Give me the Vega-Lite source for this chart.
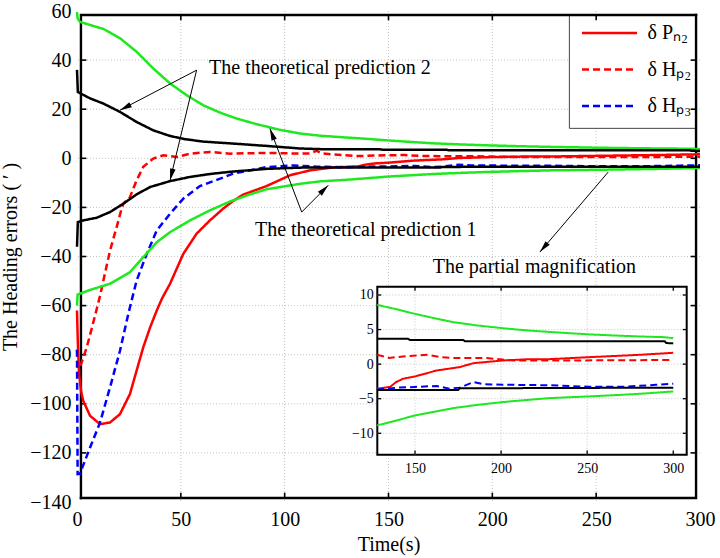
{
 "$schema": "https://vega.github.io/schema/vega-lite/v6.json",
 "width": 623, "height": 491,
 "autosize": "none",
 "padding": {"left": 77, "top": 11, "right": 20, "bottom": 56},
 "background": "white",
 "config": {
  "font": "Liberation Serif",
  "view": {"stroke": null},
  "axis": {"labelFontSize": 20, "labelColor": "black", "titleFontSize": 20, "titleFontWeight": "normal", "titleColor": "black", "labelFont": "Liberation Serif", "titleFont": "Liberation Serif", "domain": false, "ticks": false, "grid": false},
  "legend": {"labelFont": "Liberation Serif"},
  "text": {"font": "Liberation Serif"}
 },
 "data": {"values": [{}]},
 "datasets": {
  "frame": [
   {"k":"a","t":1.9,"v":-138.4},{"k":"a","t":1.9,"v":58.4},{"k":"a","t":298.1,"v":58.4},
   {"k":"b","t":1.9,"v":-138.4},{"k":"b","t":298.1,"v":-138.4},{"k":"b","t":298.1,"v":58.4}
  ],
  "curves": [
   {"s":"Pn2","t":0,"v":-62},{"s":"Pn2","t":0.4,"v":-75},{"s":"Pn2","t":1,"v":-88},{"s":"Pn2","t":2,"v":-95},{"s":"Pn2","t":3,"v":-98.8},{"s":"Pn2","t":6.3,"v":-104.9},{"s":"Pn2","t":11.1,"v":-108.3},{"s":"Pn2","t":15.9,"v":-107.6},{"s":"Pn2","t":20.7,"v":-104.2},{"s":"Pn2","t":25.5,"v":-96},{"s":"Pn2","t":28.7,"v":-86.5},{"s":"Pn2","t":31.9,"v":-77},{"s":"Pn2","t":35.2,"v":-68.9},{"s":"Pn2","t":38.4,"v":-62},{"s":"Pn2","t":41,"v":-57},{"s":"Pn2","t":44.8,"v":-51.1},{"s":"Pn2","t":51.2,"v":-38.9},{"s":"Pn2","t":57.6,"v":-30.7},{"s":"Pn2","t":64,"v":-25.3},{"s":"Pn2","t":70.4,"v":-20.5},{"s":"Pn2","t":75.3,"v":-17.3},{"s":"Pn2","t":80,"v":-14.8},{"s":"Pn2","t":91.3,"v":-11.3},{"s":"Pn2","t":102.6,"v":-6.9},{"s":"Pn2","t":112.2,"v":-4.9},{"s":"Pn2","t":123.4,"v":-3.7},{"s":"Pn2","t":128,"v":-3.55},{"s":"Pn2","t":135.5,"v":-3.3},{"s":"Pn2","t":139,"v":-2.6},{"s":"Pn2","t":143.2,"v":-2.1},{"s":"Pn2","t":150,"v":-1.78},{"s":"Pn2","t":162.6,"v":-0.92},{"s":"Pn2","t":176,"v":-0.43},{"s":"Pn2","t":183.9,"v":0.14},{"s":"Pn2","t":201,"v":0.53},{"s":"Pn2","t":214.9,"v":0.7},{"s":"Pn2","t":228,"v":0.72},{"s":"Pn2","t":251.2,"v":1.01},{"s":"Pn2","t":280.7,"v":1.35},{"s":"Pn2","t":300,"v":1.64},
   {"s":"Hp2","t":0,"v":-78},{"s":"Hp2","t":0.8,"v":-88},{"s":"Hp2","t":1.4,"v":-85.2},{"s":"Hp2","t":4.7,"v":-77},{"s":"Hp2","t":7.8,"v":-67},{"s":"Hp2","t":9.5,"v":-61.4},{"s":"Hp2","t":11.1,"v":-56},{"s":"Hp2","t":12.7,"v":-49.8},{"s":"Hp2","t":15.9,"v":-37.6},{"s":"Hp2","t":19.1,"v":-28},{"s":"Hp2","t":21,"v":-22},{"s":"Hp2","t":22.3,"v":-18.5},{"s":"Hp2","t":25.5,"v":-15.8},{"s":"Hp2","t":28.7,"v":-9},{"s":"Hp2","t":31.9,"v":-3.5},{"s":"Hp2","t":36.7,"v":-0.1},{"s":"Hp2","t":41.6,"v":1.2},{"s":"Hp2","t":48,"v":0.5},{"s":"Hp2","t":54.4,"v":1.9},{"s":"Hp2","t":64,"v":2.6},{"s":"Hp2","t":73.7,"v":1.9},{"s":"Hp2","t":91.3,"v":2.2},{"s":"Hp2","t":107.4,"v":1.9},{"s":"Hp2","t":112,"v":2.0},{"s":"Hp2","t":115.4,"v":3.0},{"s":"Hp2","t":118,"v":2.0},{"s":"Hp2","t":123.4,"v":1.6},{"s":"Hp2","t":128,"v":1.35},{"s":"Hp2","t":135,"v":0.9},{"s":"Hp2","t":143,"v":1.1},{"s":"Hp2","t":157.7,"v":1.35},{"s":"Hp2","t":165,"v":1.0},{"s":"Hp2","t":174,"v":0.87},{"s":"Hp2","t":191.6,"v":0.87},{"s":"Hp2","t":207,"v":0.53},{"s":"Hp2","t":228,"v":0.53},{"s":"Hp2","t":260,"v":0.55},{"s":"Hp2","t":300,"v":0.6},
   {"s":"Hp3","t":0,"v":-78},{"s":"Hp3","t":0.3,"v":-128.6},{"s":"Hp3","t":1.4,"v":-128.5},{"s":"Hp3","t":6.3,"v":-117.8},{"s":"Hp3","t":11.1,"v":-107.6},{"s":"Hp3","t":15.9,"v":-93.3},{"s":"Hp3","t":20.7,"v":-78.4},{"s":"Hp3","t":24.7,"v":-63.4},{"s":"Hp3","t":28.7,"v":-49.8},{"s":"Hp3","t":33.6,"v":-38.9},{"s":"Hp3","t":38.4,"v":-29.4},{"s":"Hp3","t":44.8,"v":-22.6},{"s":"Hp3","t":51.2,"v":-16.4},{"s":"Hp3","t":59.2,"v":-11.3},{"s":"Hp3","t":67.3,"v":-8.8},{"s":"Hp3","t":75.3,"v":-6.2},{"s":"Hp3","t":91.3,"v":-3.6},{"s":"Hp3","t":104.2,"v":-2.9},{"s":"Hp3","t":115.4,"v":-3.4},{"s":"Hp3","t":128,"v":-3.66},{"s":"Hp3","t":140,"v":-3.4},{"s":"Hp3","t":150,"v":-3.3},{"s":"Hp3","t":162.6,"v":-3.15},{"s":"Hp3","t":170,"v":-3.57},{"s":"Hp3","t":176,"v":-3.4},{"s":"Hp3","t":183.9,"v":-2.6},{"s":"Hp3","t":190,"v":-2.9},{"s":"Hp3","t":201,"v":-2.98},{"s":"Hp3","t":228,"v":-3.05},{"s":"Hp3","t":251,"v":-3.27},{"s":"Hp3","t":271,"v":-3.27},{"s":"Hp3","t":290,"v":-3.0},{"s":"Hp3","t":300,"v":-2.84},
   {"s":"U1","t":0,"v":59.5},{"s":"U1","t":0.3,"v":57},{"s":"U1","t":1.4,"v":55.6},{"s":"U1","t":6.3,"v":54.3},{"s":"U1","t":12.7,"v":52.7},{"s":"U1","t":20.7,"v":48.9},{"s":"U1","t":28.7,"v":43.4},{"s":"U1","t":36.7,"v":36.6},{"s":"U1","t":44.8,"v":30.5},{"s":"U1","t":52.8,"v":25.7},{"s":"U1","t":60.8,"v":21.6},{"s":"U1","t":68.9,"v":18.6},{"s":"U1","t":76.9,"v":16.2},{"s":"U1","t":86.5,"v":13.9},{"s":"U1","t":97.7,"v":11.6},{"s":"U1","t":107.4,"v":10.1},{"s":"U1","t":117,"v":9.2},{"s":"U1","t":128,"v":8.57},{"s":"U1","t":140,"v":7.9},{"s":"U1","t":150,"v":7.27},{"s":"U1","t":162,"v":6.6},{"s":"U1","t":172.3,"v":6.07},{"s":"U1","t":186,"v":5.6},{"s":"U1","t":200.9,"v":5.2},{"s":"U1","t":214,"v":4.9},{"s":"U1","t":228.4,"v":4.65},{"s":"U1","t":251.2,"v":4.3},{"s":"U1","t":265,"v":4.15},{"s":"U1","t":280.7,"v":4.0},{"s":"U1","t":295,"v":3.9},{"s":"U1","t":300,"v":3.75},
   {"s":"L1","t":0,"v":-60},{"s":"L1","t":0.3,"v":-55.5},{"s":"L1","t":6.3,"v":-53.6},{"s":"L1","t":15.9,"v":-51.1},{"s":"L1","t":25.5,"v":-46.4},{"s":"L1","t":31.9,"v":-40.3},{"s":"L1","t":38.4,"v":-34.2},{"s":"L1","t":44.8,"v":-30.1},{"s":"L1","t":54.4,"v":-25.3},{"s":"L1","t":64,"v":-21.2},{"s":"L1","t":73.7,"v":-17.6},{"s":"L1","t":83,"v":-14.8},{"s":"L1","t":91.3,"v":-12.6},{"s":"L1","t":107.4,"v":-10.4},{"s":"L1","t":117,"v":-9.4},{"s":"L1","t":128,"v":-8.86},{"s":"L1","t":140,"v":-8.1},{"s":"L1","t":150,"v":-7.42},{"s":"L1","t":162,"v":-6.85},{"s":"L1","t":172.3,"v":-6.36},{"s":"L1","t":186,"v":-5.9},{"s":"L1","t":200.9,"v":-5.49},{"s":"L1","t":214,"v":-5.2},{"s":"L1","t":228.4,"v":-4.91},{"s":"L1","t":251,"v":-4.67},{"s":"L1","t":265,"v":-4.5},{"s":"L1","t":280.7,"v":-4.29},{"s":"L1","t":300,"v":-3.95},
   {"s":"U2","t":0,"v":36},{"s":"U2","t":0.4,"v":27},{"s":"U2","t":6.3,"v":24.4},{"s":"U2","t":12.7,"v":22.3},{"s":"U2","t":20.7,"v":18.9},{"s":"U2","t":28.7,"v":14.8},{"s":"U2","t":36.7,"v":11.4},{"s":"U2","t":44.8,"v":9.1},{"s":"U2","t":52,"v":7.8},{"s":"U2","t":60.8,"v":6.8},{"s":"U2","t":76.9,"v":5.9},{"s":"U2","t":92,"v":5.0},{"s":"U2","t":107.4,"v":4.0},{"s":"U2","t":118.6,"v":3.7},{"s":"U2","t":128,"v":3.66},{"s":"U2","t":146,"v":3.66},{"s":"U2","t":147,"v":3.5},{"s":"U2","t":178,"v":3.5},{"s":"U2","t":179,"v":3.3},{"s":"U2","t":295,"v":3.3},{"s":"U2","t":296,"v":3.05},{"s":"U2","t":300,"v":3.0},
   {"s":"L2","t":0,"v":-36},{"s":"L2","t":0.4,"v":-26},{"s":"L2","t":3,"v":-25.3},{"s":"L2","t":9.5,"v":-24.2},{"s":"L2","t":15.9,"v":-21.9},{"s":"L2","t":22.3,"v":-18.5},{"s":"L2","t":28.7,"v":-14.7},{"s":"L2","t":35.2,"v":-11.7},{"s":"L2","t":44.8,"v":-9.3},{"s":"L2","t":54.4,"v":-7.6},{"s":"L2","t":64,"v":-6.4},{"s":"L2","t":73.7,"v":-5.5},{"s":"L2","t":91.3,"v":-4.3},{"s":"L2","t":107.4,"v":-3.8},{"s":"L2","t":128,"v":-3.75},{"s":"L2","t":175,"v":-3.75},{"s":"L2","t":176,"v":-3.5},{"s":"L2","t":300,"v":-3.4}
  ]
 },
 "layer": [
  {
   "layer": [
    {
     "data": {"values": [{"g": 50}, {"g": 100}, {"g": 150}, {"g": 200}, {"g": 250}]},
     "mark": {"type": "rule", "color": "#c4c4c4", "strokeDash": [1, 2], "strokeWidth": 1},
     "encoding": {"x": {"field": "g", "type": "quantitative"}}
    },
    {
     "data": {"values": [{"h": -120}, {"h": -100}, {"h": -80}, {"h": -60}, {"h": -40}, {"h": -20}, {"h": 0}, {"h": 20}, {"h": 40}]},
     "mark": {"type": "rule", "color": "#c4c4c4", "strokeDash": [1, 2], "strokeWidth": 1},
     "encoding": {"y": {"field": "h", "type": "quantitative"}}
    },
    {"mark": {"type": "rect", "fill": "white", "stroke": "#444444", "strokeWidth": 1},
     "encoding": {"x": {"datum": 237.1, "type": "quantitative"}, "x2": {"datum": 298.1}, "y": {"datum": 58.4, "type": "quantitative"}, "y2": {"datum": 12.2}}},
    {
     "data": {"name": "frame"},
     "mark": {"type": "line", "color": "black", "strokeWidth": 2.4, "strokeCap": "square"},
     "encoding": {"x": {"field": "t", "type": "quantitative"}, "y": {"field": "v", "type": "quantitative"}, "detail": {"field": "k", "type": "nominal"}}
    },
    {
     "data": {"values": [{"g": 50}, {"g": 100}, {"g": 150}, {"g": 200}, {"g": 250}]},
     "mark": {"type": "rule", "color": "black", "strokeWidth": 1.6},
     "encoding": {"x": {"field": "g", "type": "quantitative"}, "y": {"datum": -138.4, "type": "quantitative"}, "y2": {"datum": -136.2}}
    },
    {
     "data": {"values": [{"g": 50}, {"g": 100}, {"g": 150}, {"g": 200}, {"g": 250}]},
     "mark": {"type": "rule", "color": "black", "strokeWidth": 1.6},
     "encoding": {"x": {"field": "g", "type": "quantitative"}, "y": {"datum": 58.4, "type": "quantitative"}, "y2": {"datum": 56.2}}
    },
    {
     "data": {"values": [{"h": -120}, {"h": -100}, {"h": -80}, {"h": -60}, {"h": -40}, {"h": -20}, {"h": 0}, {"h": 20}, {"h": 40}]},
     "mark": {"type": "rule", "color": "black", "strokeWidth": 1.6},
     "encoding": {"y": {"field": "h", "type": "quantitative"}, "x": {"datum": 1.9, "type": "quantitative"}, "x2": {"datum": 4.5}}
    },
    {
     "data": {"values": [{"h": -120}, {"h": -100}, {"h": -80}, {"h": -60}, {"h": -40}, {"h": -20}, {"h": 0}, {"h": 20}, {"h": 40}]},
     "mark": {"type": "rule", "color": "black", "strokeWidth": 1.6},
     "encoding": {"y": {"field": "h", "type": "quantitative"}, "x": {"datum": 298.1, "type": "quantitative"}, "x2": {"datum": 295.5}}
    },
    {
     "data": {"name": "curves"},
     "mark": {"type": "line", "strokeWidth": 2.5},
     "encoding": {
      "x": {"field": "t", "type": "quantitative", "scale": {"domain": [0, 300], "nice": false, "zero": false},
            "axis": {"orient": "bottom", "values": [0, 50, 100, 150, 200, 250, 300], "title": "Time(s)", "labelPadding": 7, "titlePadding": 5, "labelFlush": false, "labelOverlap": false}},
      "y": {"field": "v", "type": "quantitative", "scale": {"domain": [-140, 60], "nice": false, "zero": false},
            "axis": {"orient": "left", "values": [-140, -120, -100, -80, -60, -40, -20, 0, 20, 40, 60], "title": "The Heading errors ( ′ )", "labelPadding": 6, "titlePadding": 9, "labelFlush": false, "labelOverlap": false}},
      "color": {"field": "s", "type": "nominal",
                "scale": {"domain": ["Pn2", "Hp2", "Hp3", "U1", "L1", "U2", "L2"], "range": ["#ff0000", "#ff0000", "#0000ff", "#1ee81e", "#1ee81e", "#000000", "#000000"]},
                "legend": {"orient": "none", "legendX": 503.5, "legendY": 12, "title": null, "values": ["Pn2", "Hp2", "Hp3"], "labelExpr": "datum.label == 'Pn2' ? 'δ Pₙ₂' : datum.label == 'Hp2' ? 'δ Hₚ₂' : 'δ Hₚ₃'", "symbolType": "stroke", "symbolSize": 3025, "symbolStrokeWidth": 2.5, "labelFontSize": 20, "labelColor": "black", "labelOffset": 9, "clipHeight": 20, "rowPadding": 16.5, "padding": 0}},
      "strokeDash": {"field": "s", "type": "nominal",
                "scale": {"domain": ["Pn2", "Hp2", "Hp3", "U1", "L1", "U2", "L2"], "range": [[1, 0], [7, 4], [7, 4], [1, 0], [1, 0], [1, 0], [1, 0]]},
                "legend": {"orient": "none", "legendX": 503.5, "legendY": 12, "title": null, "values": ["Pn2", "Hp2", "Hp3"], "labelExpr": "datum.label == 'Pn2' ? 'δ Pₙ₂' : datum.label == 'Hp2' ? 'δ Hₚ₂' : 'δ Hₚ₃'", "symbolType": "stroke", "symbolSize": 3025, "symbolStrokeWidth": 2.5, "labelFontSize": 20, "labelColor": "black", "labelOffset": 9, "clipHeight": 20, "rowPadding": 16.5, "padding": 0}}
     }
    },
    {"mark": {"type": "text", "text": "The theoretical prediction 2", "fontSize": 20, "align": "left", "baseline": "middle", "color": "black"},
     "encoding": {"x": {"datum": 63.6, "type": "quantitative"}, "y": {"datum": 36.7, "type": "quantitative"}}},
    {"mark": {"type": "text", "text": "The theoretical prediction 1", "fontSize": 20, "align": "left", "baseline": "middle", "color": "black"},
     "encoding": {"x": {"datum": 85.7, "type": "quantitative"}, "y": {"datum": -29.4, "type": "quantitative"}}},
    {"mark": {"type": "text", "text": "The partial magnification", "fontSize": 20, "align": "left", "baseline": "middle", "color": "black"},
     "encoding": {"x": {"datum": 171.3, "type": "quantitative"}, "y": {"datum": -44.4, "type": "quantitative"}}},
    {"mark": {"type": "rule", "color": "black", "strokeWidth": 1},
     "encoding": {"x": {"datum": 57.6, "type": "quantitative"}, "y": {"datum": 35.9, "type": "quantitative"}, "x2": {"datum": 20.7}, "y2": {"datum": 19.6}}},
    {"mark": {"type": "rule", "color": "black", "strokeWidth": 1},
     "encoding": {"x": {"datum": 57.6, "type": "quantitative"}, "y": {"datum": 35.9, "type": "quantitative"}, "x2": {"datum": 44.8}, "y2": {"datum": -9.0}}},
    {"mark": {"type": "rule", "color": "black", "strokeWidth": 1},
     "encoding": {"x": {"datum": 108.2, "type": "quantitative"}, "y": {"datum": -21.9, "type": "quantitative"}, "x2": {"datum": 92.9}, "y2": {"datum": 12.1}}},
    {"mark": {"type": "rule", "color": "black", "strokeWidth": 1},
     "encoding": {"x": {"datum": 108.2, "type": "quantitative"}, "y": {"datum": -21.9, "type": "quantitative"}, "x2": {"datum": 121}, "y2": {"datum": -11.0}}},
    {"mark": {"type": "rule", "color": "black", "strokeWidth": 1},
     "encoding": {"x": {"datum": 255.8, "type": "quantitative"}, "y": {"datum": -5.6, "type": "quantitative"}, "x2": {"datum": 222.9}, "y2": {"datum": -38.2}}},
    {"mark": {"type": "point", "shape": "M0,0L-0.33,1.4L0.33,1.4Z", "filled": true, "color": "black", "opacity": 1, "size": 290, "angle": 242.5},
     "encoding": {"x": {"datum": 20.7, "type": "quantitative"}, "y": {"datum": 19.6, "type": "quantitative"}}},
    {"mark": {"type": "point", "shape": "M0,0L-0.33,1.4L0.33,1.4Z", "filled": true, "color": "black", "opacity": 1, "size": 290, "angle": 193.6},
     "encoding": {"x": {"datum": 44.8, "type": "quantitative"}, "y": {"datum": -9.0, "type": "quantitative"}}},
    {"mark": {"type": "point", "shape": "M0,0L-0.33,1.4L0.33,1.4Z", "filled": true, "color": "black", "opacity": 1, "size": 290, "angle": 339.2},
     "encoding": {"x": {"datum": 92.9, "type": "quantitative"}, "y": {"datum": 12.1, "type": "quantitative"}}},
    {"mark": {"type": "point", "shape": "M0,0L-0.33,1.4L0.33,1.4Z", "filled": true, "color": "black", "opacity": 1, "size": 290, "angle": 44.9},
     "encoding": {"x": {"datum": 121, "type": "quantitative"}, "y": {"datum": -11.0, "type": "quantitative"}}},
    {"mark": {"type": "point", "shape": "M0,0L-0.33,1.4L0.33,1.4Z", "filled": true, "color": "black", "opacity": 1, "size": 290, "angle": 220.5},
     "encoding": {"x": {"datum": 222.9, "type": "quantitative"}, "y": {"datum": -38.2, "type": "quantitative"}}}
   ]
  },
  {
   "layer": [
    {
     "mark": {"type": "rect", "fill": "white", "stroke": "black", "strokeWidth": 2},
     "encoding": {
      "x": {"datum": 128.1, "type": "quantitative", "scale": {"domain": [128.1, 307.8], "range": [300.3, 609.7], "nice": false, "zero": false},
            "axis": {"orient": "bottom", "offset": -47.3, "values": [150, 200, 250, 300], "title": null, "labelFontSize": 14, "labelPadding": 6.6, "zindex": 1, "labelFlush": false}},
      "x2": {"datum": 307.8},
      "y": {"datum": -13.1, "type": "quantitative", "scale": {"domain": [-13.1, 11.2], "range": [443.7, 275.7], "nice": false, "zero": false},
            "axis": {"orient": "left", "offset": -300.3, "values": [-10, -5, 0, 5, 10], "title": null, "labelFontSize": 14, "labelPadding": 4, "zindex": 1, "labelFlush": false}},
      "y2": {"datum": 11.2}
     }
    },
    {
     "data": {"values": [{"g": 150}, {"g": 200}, {"g": 250}]},
     "mark": {"type": "rule", "color": "#c4c4c4", "strokeDash": [1, 2], "strokeWidth": 1},
     "encoding": {"x": {"field": "g", "type": "quantitative", "title": null}, "y": {"datum": -13.1, "type": "quantitative"}, "y2": {"datum": 11.2}}
    },
    {
     "data": {"values": [{"h": -10}, {"h": -5}, {"h": 0}, {"h": 5}, {"h": 10}]},
     "mark": {"type": "rule", "color": "#c4c4c4", "strokeDash": [1, 2], "strokeWidth": 1},
     "encoding": {"y": {"field": "h", "type": "quantitative", "title": null}, "x": {"datum": 128.1, "type": "quantitative"}, "x2": {"datum": 307.8}}
    },
    {
     "data": {"values": [{"g": 150}, {"g": 200}, {"g": 250}, {"g": 300}]},
     "mark": {"type": "rule", "color": "black", "strokeWidth": 1.3},
     "encoding": {"x": {"field": "g", "type": "quantitative", "title": null}, "y": {"datum": -13.1, "type": "quantitative"}, "y2": {"datum": -12.5}}
    },
    {
     "data": {"values": [{"g": 150}, {"g": 200}, {"g": 250}, {"g": 300}]},
     "mark": {"type": "rule", "color": "black", "strokeWidth": 1.3},
     "encoding": {"x": {"field": "g", "type": "quantitative", "title": null}, "y": {"datum": 11.2, "type": "quantitative"}, "y2": {"datum": 10.6}}
    },
    {
     "data": {"values": [{"h": -10}, {"h": -5}, {"h": 0}, {"h": 5}, {"h": 10}]},
     "mark": {"type": "rule", "color": "black", "strokeWidth": 1.3},
     "encoding": {"y": {"field": "h", "type": "quantitative", "title": null}, "x": {"datum": 128.1, "type": "quantitative"}, "x2": {"datum": 130.4}}
    },
    {
     "data": {"values": [{"h": -10}, {"h": -5}, {"h": 0}, {"h": 5}, {"h": 10}]},
     "mark": {"type": "rule", "color": "black", "strokeWidth": 1.3},
     "encoding": {"y": {"field": "h", "type": "quantitative", "title": null}, "x": {"datum": 307.8, "type": "quantitative"}, "x2": {"datum": 305.5}}
    },
    {
     "data": {"name": "curves"},
     "transform": [{"filter": "datum.t >= 128"}],
     "mark": {"type": "line", "strokeWidth": 2},
     "encoding": {
      "x": {"field": "t", "type": "quantitative", "title": null},
      "y": {"field": "v", "type": "quantitative", "title": null},
      "color": {"field": "s", "type": "nominal"},
      "strokeDash": {"field": "s", "type": "nominal"}
     }
    }
   ]
  }
 ],
 "resolve": {"scale": {"x": "independent", "y": "independent"}}
}
